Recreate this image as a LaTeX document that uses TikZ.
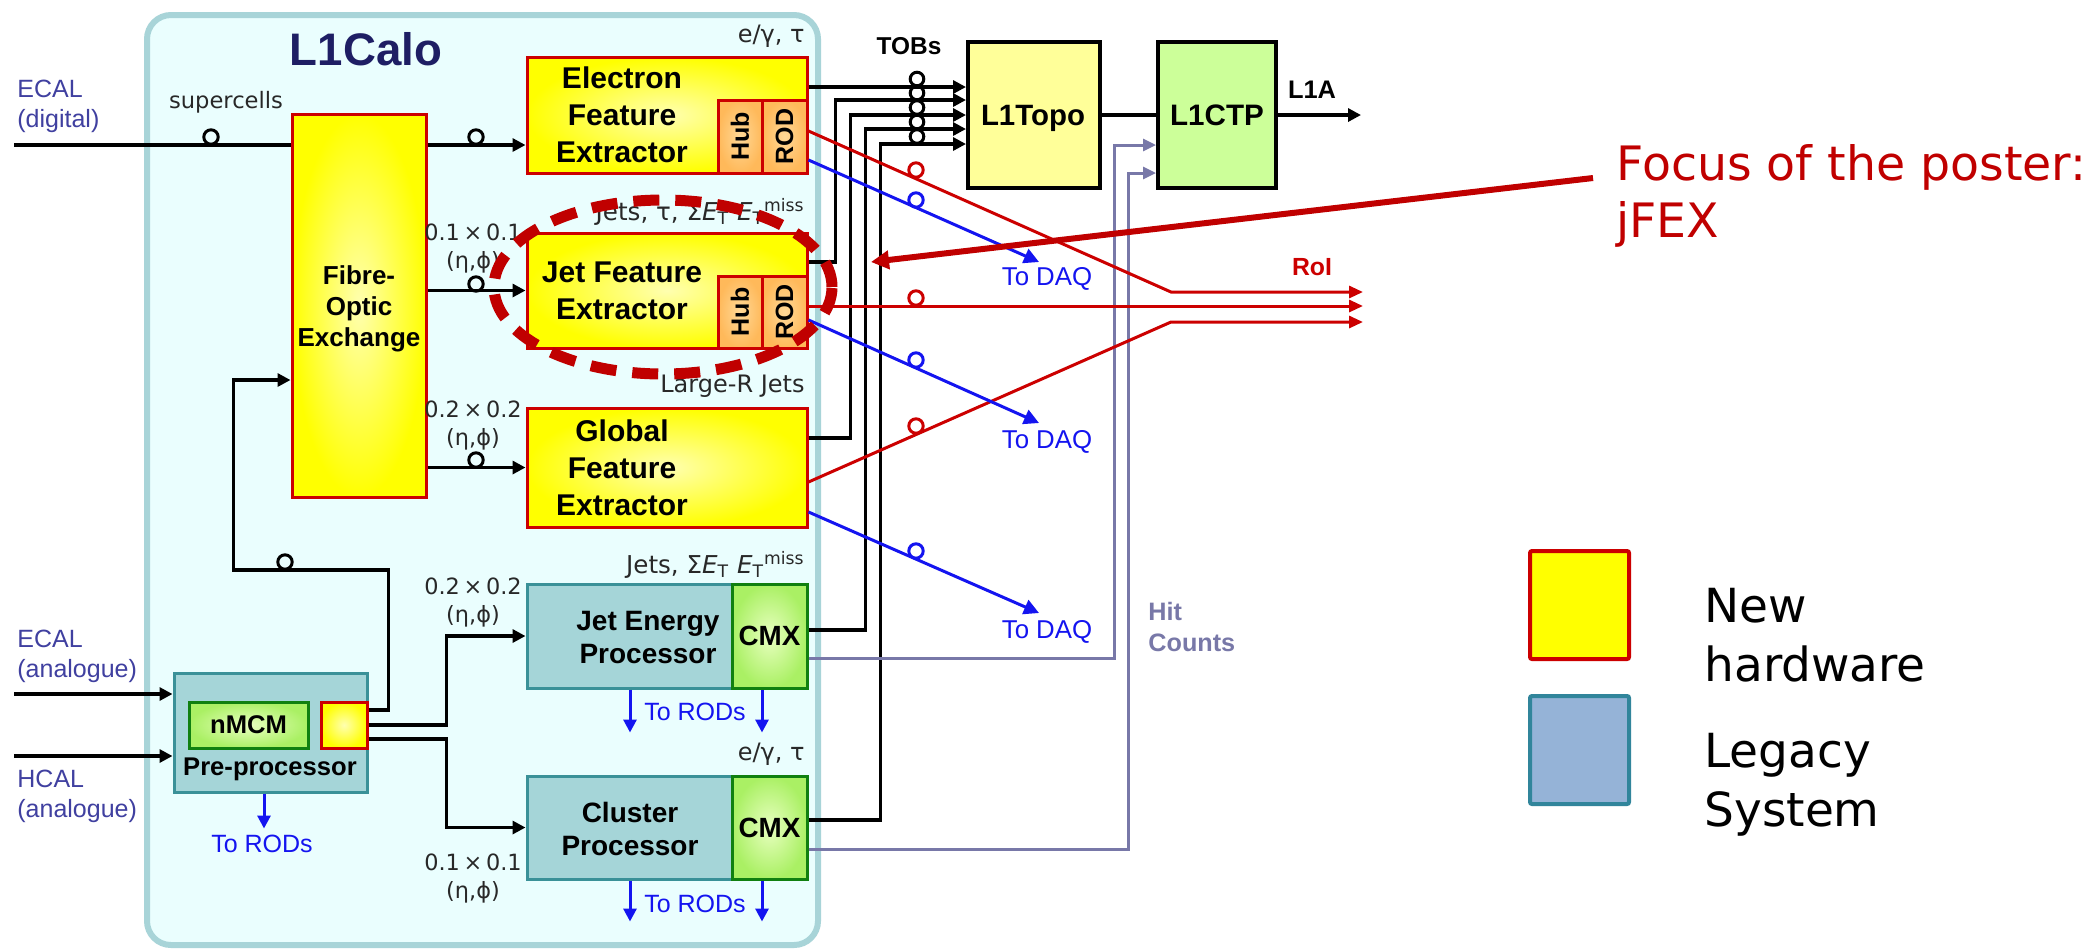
\documentclass[tikz,border=0pt]{standalone}
\usepackage{fontspec}
\setmainfont{Liberation Sans}
\newfontfamily\dv{DejaVu Sans}
\usetikzlibrary{arrows.meta,fit,calc}
\definecolor{redb}{RGB}{204,0,0}
\definecolor{yel}{RGB}{255,255,0}
\definecolor{paleyel}{RGB}{255,255,176}
\definecolor{tealfill}{RGB}{165,213,216}
\definecolor{tealline}{RGB}{58,145,152}
\definecolor{calofill}{RGB}{234,254,254}
\definecolor{caloline}{RGB}{168,212,216}
\definecolor{greenline}{RGB}{16,128,16}
\definecolor{greenin}{RGB}{232,255,192}
\definecolor{greenout}{RGB}{170,240,100}
\definecolor{orin}{RGB}{255,216,150}
\definecolor{orout}{RGB}{255,185,90}
\definecolor{topofill}{RGB}{255,255,153}
\definecolor{ctpfill}{RGB}{204,255,153}
\definecolor{hitc}{RGB}{120,120,168}
\definecolor{daqblue}{RGB}{20,20,240}
\definecolor{roired}{RGB}{204,0,0}
\definecolor{focusred}{RGB}{192,0,0}
\definecolor{ecalc}{RGB}{64,64,160}
\definecolor{titlec}{RGB}{30,30,100}
\definecolor{labc}{RGB}{40,40,40}
\definecolor{legteal}{RGB}{149,179,215}
\definecolor{legtealline}{RGB}{49,133,155}
\begin{document}
\begin{tikzpicture}[x=0.5pt,y=-0.5pt,
  newhw/.style={draw=redb, line width=1.5pt, inner sep=0pt, inner color=paleyel, outer color=yel},
  legacy/.style={draw=tealline, fill=tealfill, line width=1.5pt, inner sep=0pt},
  cmxbox/.style={draw=greenline, line width=1.5pt, inner sep=0pt, inner color=greenin, outer color=greenout},
  hubbox/.style={draw=redb, line width=1.5pt, inner sep=0pt, inner color=orin, outer color=orout},
  trigbox/.style={draw=black, line width=2pt, inner sep=0pt},
  wire/.style={line width=1.6pt, black},
  arr/.style={wire, -{Triangle[length=6.5pt,width=6.5pt]}},
  redwire/.style={line width=1.5pt, roired, -{Triangle[length=7pt,width=6pt]}},
  bluewire/.style={line width=1.5pt, daqblue, -{Triangle[length=7.5pt,width=7.5pt]}},
  rodarr/.style={line width=1.5pt, daqblue, -{Triangle[length=6.5pt,width=6.5pt]}},
  hitwire/.style={line width=1.5pt, hitc, -{Triangle[length=6.5pt,width=6pt]}},
  ring/.style={line width=1.5pt},
  boxtxt/.style={font=\fontsize{15}{18.5}\selectfont\bfseries, align=center, inner sep=0pt},
  lab/.style={font=\dv\fontsize{11.5}{14}\selectfont, text=labc, inner sep=0pt},
  ecallab/.style={font=\fontsize{12.5}{15}\selectfont, text=ecalc, align=left, inner sep=0pt, anchor=north west},
  rodlab/.style={font=\fontsize{12.5}{15}\selectfont, text=daqblue, inner sep=0pt, anchor=north},
  daqlab/.style={font=\fontsize{12.9}{15}\selectfont, text=daqblue, inner sep=0pt, anchor=north},
  leglab/.style={font=\dv\fontsize{23.5}{29.5}\selectfont, align=left, inner sep=0pt, anchor=north west}]
\useasboundingbox (0,0) rectangle (2096,950);
\fill[white] (0,0) rectangle (2096,950);

% L1Calo panel
\node[fit={(147,15) (818,945)}, draw=caloline, fill=calofill, line width=3pt, rounded corners=12pt, inner sep=0pt] (calo) {};
\node[font=\fontsize{22.8}{26}\selectfont\bfseries, text=titlec, inner sep=0pt] (calotitle) at (366,49) {L1Calo};

% boxes
\node[newhw, fit={(292,114) (426,497)}] (fibre) {};
\node[newhw, fit={(527,57) (807,173)}] (efex) {};
\node[hubbox, fit={(718,100) (762,173)}] (ehub) {};
\node[hubbox, fit={(762,100) (807,173)}] (erod) {};
\node[newhw, fit={(527,233) (807,348)}] (jfex) {};
\node[hubbox, fit={(718,276) (762,348)}] (jhub) {};
\node[hubbox, fit={(762,276) (807,348)}] (jrod) {};
\node[newhw, fit={(527,408) (807,527)}] (gfex) {};
\node[legacy, fit={(527,584) (807,688)}] (jep) {};
\node[cmxbox, fit={(732,584) (807,688)}] (jepcmx) {};
\node[legacy, fit={(527,776) (807,879)}] (cp) {};
\node[cmxbox, fit={(732,776) (807,879)}] (cpcmx) {};
\node[legacy, fit={(174,673) (367,792)}] (ppr) {};
\node[cmxbox, fit={(189,702) (308,748)}] (nmcm) {};
\node[newhw, fit={(321,702) (367,748)}] (pprout) {};
\node[trigbox, fill=topofill, fit={(968,42) (1100,188)}] (topo) {};
\node[trigbox, fill=ctpfill, fit={(1158,42) (1276,188)}] (ctp) {};

% box texts
\node[boxtxt, anchor=north] (efext) at (622,66) {Electron\\Feature\\Extractor};
\node[boxtxt, anchor=north] (jfext) at (622,261) {Jet Feature\\Extractor};
\node[boxtxt, anchor=north] (gfext) at (622,419) {Global\\Feature\\Extractor};
\node[boxtxt, font=\fontsize{13}{15.5}\selectfont\bfseries, anchor=north] (fibret) at (359,265) {Fibre-\\Optic\\Exchange};
\node[boxtxt, font=\fontsize{14}{16.5}\selectfont\bfseries, anchor=north] (jept) at (648,611) {Jet Energy\\Processor};
\node[boxtxt, font=\fontsize{14}{16.5}\selectfont\bfseries, anchor=north] (cpt) at (630,802) {Cluster\\Processor};
\node[font=\fontsize{12.8}{15}\selectfont\bfseries, inner sep=0pt, anchor=north] (pprt) at (270,757) {Pre-processor};
\node[font=\fontsize{12.8}{15}\selectfont\bfseries, inner sep=0pt] (nmcmt) at (nmcm.center) {nMCM};
\node[font=\fontsize{13.9}{15}\selectfont\bfseries, inner sep=0pt] (jepcmxt) at (jepcmx.center) {CMX};
\node[font=\fontsize{13.9}{15}\selectfont\bfseries, inner sep=0pt] (cpcmxt) at (cpcmx.center) {CMX};
\node[font=\fontsize{12.5}{14}\selectfont\bfseries, rotate=90, inner sep=0pt] (ehubt) at (ehub.center) {Hub};
\node[font=\fontsize{12.5}{14}\selectfont\bfseries, rotate=90, inner sep=0pt] (erodt) at (erod.center) {ROD};
\node[font=\fontsize{12.5}{14}\selectfont\bfseries, rotate=90, inner sep=0pt] (jhubt) at (jhub.center) {Hub};
\node[font=\fontsize{12.5}{14}\selectfont\bfseries, rotate=90, inner sep=0pt] (jrodt) at (jrod.center) {ROD};
\node[font=\fontsize{14.7}{17}\selectfont\bfseries, inner sep=0pt, anchor=base] (topot) at (1033,125) {L1Topo};
\node[font=\fontsize{14.8}{17}\selectfont\bfseries, inner sep=0pt, anchor=base] (ctpt) at (1217,125) {L1CTP};

% labels
\node[ecallab] (ecaldl) at (17,80) {ECAL\\(digital)};
\node[ecallab] (ecalal) at (17,630) {ECAL\\(analogue)};
\node[ecallab] (hcalal) at (17,770) {HCAL\\(analogue)};
\node[lab, font=\dv\fontsize{11.3}{14}\selectfont, anchor=base] (lsuper) at (226,108) {supercells};
\node[lab, font=\dv\fontsize{12}{14}\selectfont, anchor=base east] (l1) at (805,42) {e/γ, τ};
\node[lab, font=\dv\fontsize{12.3}{14}\selectfont, anchor=base east] (l2) at (805,220) {Jets, τ, Σ\textit{E}\textsubscript{T} \textit{E}\textsubscript{T}\textsuperscript{miss}};
\node[lab, font=\dv\fontsize{12}{14}\selectfont, anchor=base east] (l3) at (805,392) {Large-R Jets};
\node[lab, font=\dv\fontsize{12.3}{14}\selectfont, anchor=base east] (l4) at (805,573) {Jets, Σ\textit{E}\textsubscript{T} \textit{E}\textsubscript{T}\textsuperscript{miss}};
\node[lab, font=\dv\fontsize{12}{14}\selectfont, anchor=base east] (l5) at (805,760) {e/γ, τ};
\node[lab, align=center, anchor=north, font=\dv\fontsize{11.2}{14}\selectfont] (g1) at (473,223) {0.1\,×\,0.1\\(η,ϕ)};
\node[lab, align=center, anchor=north, font=\dv\fontsize{11.2}{14}\selectfont] (g2) at (473,400) {0.2\,×\,0.2\\(η,ϕ)};
\node[lab, align=center, anchor=north, font=\dv\fontsize{11.2}{14}\selectfont] (g3) at (473,577) {0.2\,×\,0.2\\(η,ϕ)};
\node[lab, align=center, anchor=north, font=\dv\fontsize{11.2}{14}\selectfont] (g4) at (473,853) {0.1\,×\,0.1\\(η,ϕ)};
\node[font=\fontsize{12.2}{14}\selectfont\bfseries, inner sep=0pt, anchor=base] (tobs) at (909,54) {TOBs};
\node[font=\fontsize{12.7}{14}\selectfont\bfseries, inner sep=0pt, anchor=base] (l1a) at (1312,98) {L1A};
\node[font=\fontsize{12.4}{14}\selectfont\bfseries, text=roired, inner sep=0pt, anchor=base] (roil) at (1312,275) {RoI};
\node[font=\fontsize{12.6}{15.5}\selectfont\bfseries, text=hitc, align=left, inner sep=0pt, anchor=north west] (hitl) at (1148,602) {Hit\\Counts};
\node[daqlab] (daql1) at (1047,267) {To DAQ};
\node[daqlab] (daql2) at (1047,430) {To DAQ};
\node[daqlab] (daql3) at (1047,620) {To DAQ};
\node[rodlab] (rodl1) at (262,835) {To RODs};
\node[rodlab] (rodl2) at (695,703) {To RODs};
\node[rodlab] (rodl3) at (695,895) {To RODs};

% connectors
\coordinate (ecald) at (14,145);
\draw[wire] (ecald) -- (ecald -| fibre.west);
\draw[arr] (fibre.east |- ecald) -- (efex.west |- ecald);
\draw[arr] (fibre.east |- jfex.west) -- (jfex.west);
\draw[arr] (fibre.east |- gfex.west) -- (gfex.west);
\draw[arr] ([yshift=7.5pt]pprout.east) -- ++(20,0) |- ++(-155,-140) |- ([yshift=-37.25pt]fibre.west);
\draw[arr] (pprout.east) -- ++(78,0) |- (jep.west);
\draw[arr] ([yshift=-7pt]pprout.east) -- ++(78,0) |- (cp.west);
\coordinate (ecala) at (14,694);
\coordinate (hcala) at (14,756);
\draw[arr] (ecala) -- (ecala -| ppr.west);
\draw[arr] (hcala) -- (hcala -| ppr.west);
\draw[rodarr] ([xshift=-3.25pt]ppr.south) -- ++(0,35);
\draw[rodarr] ([xshift=-18.5pt]jep.south) -- ++(0,43);
\draw[rodarr] ([xshift=-3.75pt]jepcmx.south) -- ++(0,43);
\draw[rodarr] ([xshift=-18.5pt]cp.south) -- ++(0,41);
\draw[rodarr] ([xshift=-3.75pt]cpcmx.south) -- ++(0,41);

% TOBs
\draw[arr] ([yshift=14pt]efex.east) -- ([yshift=14pt]efex.east -| topo.west);
\draw[arr] ([yshift=14.25pt]jfex.east) -- ++(27,0) |- ([yshift=7.5pt]topo.west);
\draw[arr] ([yshift=14.75pt]gfex.east) -- ++(42,0) |- (topo.west);
\draw[arr] ([yshift=3pt]jepcmx.east) -- ++(57,0) |- ([yshift=-7pt]topo.west);
\draw[arr] ([yshift=3.75pt]cpcmx.east) -- ++(72,0) |- ([yshift=-14.5pt]topo.west);
\draw[wire] (topo.east) -- (ctp.west);
\coordinate (l1aend) at (1361,115);
\draw[arr] (ctp.east) -- (l1aend);

% hit counts
\draw[hitwire] ([yshift=-11pt]jepcmx.east) -- ++(306,0) |- ([yshift=-15pt]ctp.west);
\draw[hitwire] ([yshift=-10.75pt]cpcmx.east) -- ++(320,0) |- ([yshift=-29pt]ctp.west);

% RoI
\coordinate (roi1) at (1363,292);
\coordinate (roi2) at (1363,306);
\coordinate (roi3) at (1363,322);
\draw[redwire] ([yshift=2.75pt]erod.east) -- ([xshift=-96pt]roi1) -- (roi1);
\draw[redwire] ([yshift=3pt]jrod.east) -- (roi2);
\draw[redwire] ([yshift=-7.25pt]gfex.east) -- ([xshift=-96pt]roi3) -- (roi3);

% To DAQ
\coordinate (daq1) at (1039,262);
\coordinate (daq2) at (1039,423);
\coordinate (daq3) at (1039,613);
\draw[bluewire] ([yshift=-11.75pt]erod.east) -- (daq1);
\draw[bluewire] ([yshift=-4pt]jrod.east) -- (daq2);
\draw[bluewire] ([yshift=-22.25pt]gfex.east) -- (daq3);

% rings
\foreach \p in {(211,137),(476,137),(476,284),(476,460),(285,562)}
  \draw[ring] \p circle[radius=3.6pt];
\foreach \p in {(917,79),(917,93),(917,107.5),(917,122),(917,136.5)}
  \draw[ring] \p circle[radius=3.4pt];
\foreach \p in {(916,170),(916,298),(916,426)}
  \draw[ring, roired] \p circle[radius=3.6pt];
\foreach \p in {(916,200),(916,360),(916,551)}
  \draw[ring, daqblue] \p circle[radius=3.6pt];

% focus ellipse and arrow
\draw[focusred, line width=5.5pt, dash pattern=on 13pt off 8pt] (663,287) ellipse [x radius=84.5pt, y radius=43.5pt];
\node[font=\dv\fontsize{23.7}{29}\selectfont, text=focusred, anchor=base west, inner sep=0pt] (focus1) at (1616,180) {Focus of the poster:};
\node[font=\dv\fontsize{23.7}{29}\selectfont, text=focusred, anchor=base west, inner sep=0pt] (focus2) at (1616,237) {jFEX};
\coordinate (focustip) at (871,262);
\draw[focusred, line width=3pt, -{Triangle[length=9pt,width=9pt]}] ([xshift=-11.5pt,yshift=1pt]focus1.base west) -- (focustip);

% legend
\node[fit={(1530,551) (1629,659)}, draw=redb, fill=yel, line width=2pt, rounded corners=1pt, inner sep=0pt] (legnew) {};
\node[fit={(1530,696) (1629,804)}, draw=legtealline, fill=legteal, line width=2pt, rounded corners=1pt, inner sep=0pt] (legold) {};
\node[leglab] (legnewt) at (1704,588) {New\\hardware};
\node[leglab] (legoldt) at (1704,733) {Legacy\\System};
\end{tikzpicture}
\end{document}
